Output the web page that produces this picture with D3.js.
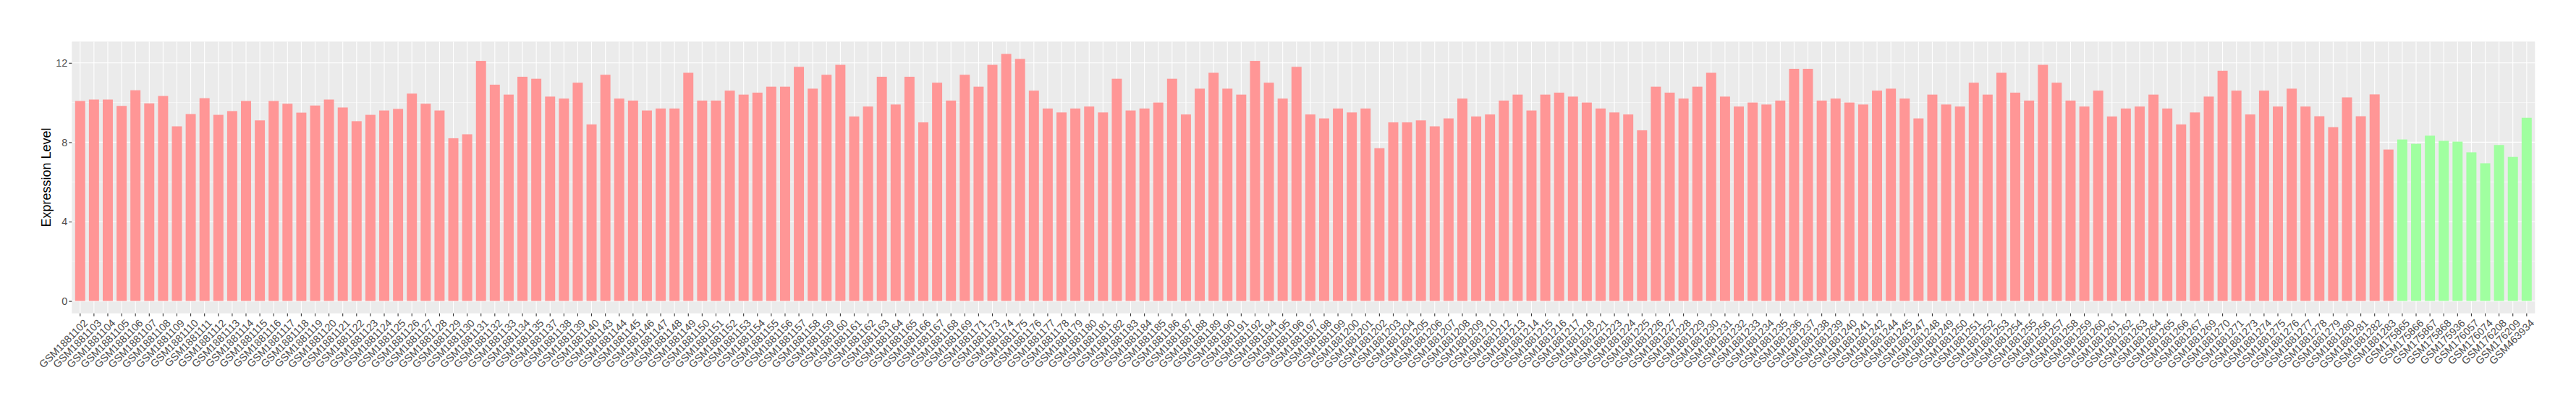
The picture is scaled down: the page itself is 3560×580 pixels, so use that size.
<!DOCTYPE html>
<html>
<head>
<meta charset="utf-8">
<script src="https://cdn.jsdelivr.net/npm/d3@7"></script>
<style>
  html, body { margin: 0; padding: 0; background: #ffffff; }
  svg { display: block; }
</style>
</head>
<body>
<div id="chart"></div>
<script>
// ---------------- data ----------------
const caseSamples = [
  "GSM1881102","GSM1881103","GSM1881104","GSM1881105","GSM1881106","GSM1881107","GSM1881108","GSM1881109","GSM1881110","GSM1881111",
  "GSM1881112","GSM1881113","GSM1881114","GSM1881115","GSM1881116","GSM1881117","GSM1881118","GSM1881119","GSM1881120","GSM1881121",
  "GSM1881122","GSM1881123","GSM1881124","GSM1881125","GSM1881126","GSM1881127","GSM1881128","GSM1881129","GSM1881130","GSM1881131",
  "GSM1881132","GSM1881133","GSM1881134","GSM1881135","GSM1881137","GSM1881138","GSM1881139","GSM1881140","GSM1881143","GSM1881144",
  "GSM1881145","GSM1881146","GSM1881147","GSM1881148","GSM1881149","GSM1881150","GSM1881151","GSM1881152","GSM1881153","GSM1881154",
  "GSM1881155","GSM1881156","GSM1881157","GSM1881158","GSM1881159","GSM1881160","GSM1881161","GSM1881162","GSM1881163","GSM1881164",
  "GSM1881165","GSM1881166","GSM1881167","GSM1881168","GSM1881169","GSM1881171","GSM1881173","GSM1881174","GSM1881175","GSM1881176",
  "GSM1881177","GSM1881178","GSM1881179","GSM1881180","GSM1881181","GSM1881182","GSM1881183","GSM1881184","GSM1881185","GSM1881186",
  "GSM1881187","GSM1881188","GSM1881189","GSM1881190","GSM1881191","GSM1881192","GSM1881194","GSM1881195","GSM1881196","GSM1881197",
  "GSM1881198","GSM1881199","GSM1881200","GSM1881201","GSM1881202","GSM1881203","GSM1881204","GSM1881205","GSM1881206","GSM1881207",
  "GSM1881208","GSM1881209","GSM1881210","GSM1881212","GSM1881213","GSM1881214","GSM1881215","GSM1881216","GSM1881217","GSM1881218",
  "GSM1881221","GSM1881223","GSM1881224","GSM1881225","GSM1881226","GSM1881227","GSM1881228","GSM1881229","GSM1881230","GSM1881231",
  "GSM1881232","GSM1881233","GSM1881234","GSM1881235","GSM1881236","GSM1881237","GSM1881238","GSM1881239","GSM1881240","GSM1881241",
  "GSM1881242","GSM1881244","GSM1881245","GSM1881247","GSM1881248","GSM1881249","GSM1881250","GSM1881251","GSM1881252","GSM1881253",
  "GSM1881254","GSM1881255","GSM1881256","GSM1881257","GSM1881258","GSM1881259","GSM1881260","GSM1881261","GSM1881262","GSM1881263",
  "GSM1881264","GSM1881265","GSM1881266","GSM1881267","GSM1881269","GSM1881270","GSM1881271","GSM1881273","GSM1881274","GSM1881275",
  "GSM1881276","GSM1881277","GSM1881278","GSM1881279","GSM1881280","GSM1881281","GSM1881282","GSM1881283"
];
const caseValues = [
  10.08,10.15,10.15,9.83,10.62,9.96,10.33,8.80,9.42,10.22,
  9.38,9.57,10.08,9.10,10.08,9.94,9.49,9.85,10.15,9.75,
  9.06,9.38,9.60,9.68,10.45,9.94,9.60,8.20,8.40,12.10,
  10.90,10.40,11.30,11.20,10.30,10.20,11.00,8.90,11.40,10.20,
  10.10,9.60,9.70,9.70,11.50,10.10,10.10,10.60,10.40,10.50,
  10.80,10.80,11.80,10.70,11.40,11.90,9.30,9.80,11.30,9.90,
  11.30,9.00,11.00,10.10,11.40,10.80,11.90,12.45,12.20,10.60,
  9.70,9.50,9.70,9.80,9.50,11.20,9.60,9.70,10.00,11.20,
  9.40,10.70,11.50,10.70,10.40,12.10,11.00,10.20,11.80,9.40,
  9.20,9.70,9.50,9.70,7.70,9.00,9.00,9.10,8.80,9.20,
  10.20,9.30,9.40,10.10,10.40,9.60,10.40,10.50,10.30,10.00,
  9.70,9.50,9.40,8.60,10.80,10.50,10.20,10.80,11.50,10.30,
  9.80,10.00,9.90,10.10,11.70,11.70,10.10,10.20,10.00,9.90,
  10.60,10.70,10.20,9.20,10.40,9.90,9.80,11.00,10.40,11.50,
  10.50,10.10,11.90,11.00,10.10,9.80,10.60,9.30,9.70,9.80,
  10.40,9.70,8.90,9.50,10.30,11.60,10.60,9.40,10.60,9.80,
  10.70,9.80,9.31,8.76,10.26,9.31,10.41,7.63
];
const controlSamples = [
  "GSM175865","GSM175866","GSM175867","GSM175868","GSM175936",
  "GSM176057","GSM176074","GSM176208","GSM176209","GSM463934"
];
const controlValues = [8.14,7.92,8.33,8.07,8.03,7.49,6.94,7.86,7.26,9.23];

const yTicks = [0, 4, 8, 12];
const yMinorTicks = [2, 6, 10];
const yTitle = "Expression Level";

// ---------------- layout ----------------
const W = 3560, H = 580;
const panel = { left: 99.3, right: 3503.3, top: 57.4, bottom: 432.7 };
const colors = { case: "#FF9696", control: "#A0FFA0" };

const data = caseSamples.map((s, i) => ({ name: s, value: caseValues[i], group: "case" }))
  .concat(controlSamples.map((s, i) => ({ name: s, value: controlValues[i], group: "control" })));

const svg = d3.select("#chart").append("svg")
  .attr("width", W).attr("height", H)
  .style("font-family", "'Liberation Sans', Arial, Helvetica, sans-serif");

const x = d3.scaleBand()
  .domain(data.map(d => d.name))
  .range([panel.left, panel.right])
  .paddingInner(0.27)
  .paddingOuter(0.235);

const maxV = d3.max(data, d => d.value);
const y = d3.scaleLinear()
  .domain([-0.05 * maxV, 1.05 * maxV])
  .range([panel.bottom, panel.top]);

// panel background
svg.append("rect")
  .attr("x", panel.left).attr("y", panel.top)
  .attr("width", panel.right - panel.left).attr("height", panel.bottom - panel.top)
  .attr("fill", "#EBEBEB");

// minor horizontal grid
svg.append("g").selectAll("line").data(yMinorTicks).join("line")
  .attr("x1", panel.left).attr("x2", panel.right)
  .attr("y1", d => y(d)).attr("y2", d => y(d))
  .attr("stroke", "#ffffff").attr("stroke-width", 0.55);

// major horizontal grid
svg.append("g").selectAll("line").data(yTicks).join("line")
  .attr("x1", panel.left).attr("x2", panel.right)
  .attr("y1", d => y(d)).attr("y2", d => y(d))
  .attr("stroke", "#ffffff").attr("stroke-width", 1.1);

// vertical grid at each category
const cx = d => x(d) + x.bandwidth() / 2;
svg.append("g").selectAll("line").data(x.domain()).join("line")
  .attr("x1", d => cx(d)).attr("x2", d => cx(d))
  .attr("y1", panel.top).attr("y2", panel.bottom)
  .attr("stroke", "#ffffff").attr("stroke-width", 1.1);

// bars
svg.append("g").selectAll("rect").data(data).join("rect")
  .attr("x", d => x(d.name))
  .attr("width", x.bandwidth())
  .attr("y", d => y(d.value))
  .attr("height", d => y(0) - y(d.value))
  .attr("fill", d => colors[d.group]);

// y axis
const yAxis = d3.axisLeft(y).tickValues(yTicks).tickSize(4).tickPadding(2).tickFormat(d3.format("d"));
const gy = svg.append("g").attr("transform", `translate(${panel.left},0)`).call(yAxis);
gy.select(".domain").remove();
gy.selectAll(".tick line").attr("stroke", "#333333").attr("stroke-width", 1.1);
gy.selectAll(".tick text").attr("fill", "#4D4D4D").style("font-size", "14.4px")
  .style("font-family", "'Liberation Sans', Arial, sans-serif");

// x axis
const xAxis = d3.axisBottom(x).tickSize(4).tickPadding(2);
const gx = svg.append("g").attr("transform", `translate(0,${panel.bottom})`).call(xAxis);
gx.select(".domain").remove();
gx.selectAll(".tick line").attr("stroke", "#333333").attr("stroke-width", 1.1);
gx.selectAll(".tick text")
  .attr("fill", "#4D4D4D")
  .style("font-size", "14.4px")
  .style("font-family", "'Liberation Sans', Arial, sans-serif")
  .attr("text-anchor", "end")
  .attr("x", 0).attr("y", 0).attr("dy", "0.72em")
  .attr("transform", "translate(4,7) rotate(-45)");

// y title
svg.append("text")
  .attr("transform", `translate(70,${(panel.top + panel.bottom) / 2}) rotate(-90)`)
  .attr("text-anchor", "middle")
  .attr("fill", "#000000")
  .style("font-size", "18px")
  .text(yTitle);
</script>
</body>
</html>
